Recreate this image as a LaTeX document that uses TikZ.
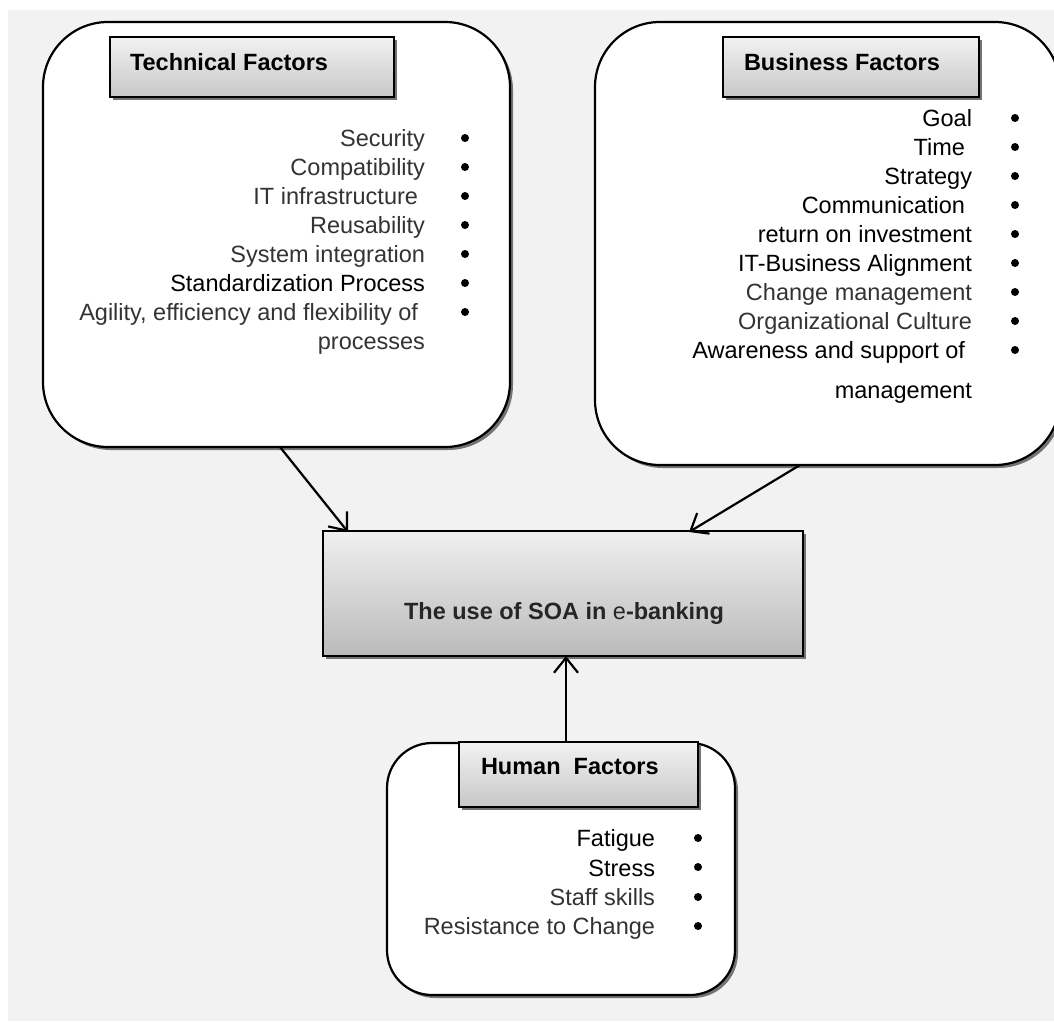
\documentclass[tikz,border=0pt]{standalone}
\usepackage{fontspec}
\setmainfont{Liberation Sans}
\usetikzlibrary{arrows.meta,shadows}
\definecolor{bgc}{HTML}{F2F2F2}
\definecolor{txtg}{HTML}{333333}
\definecolor{ctrt}{HTML}{262626}
\begin{document}
\begin{tikzpicture}[x=1pt,y=-1pt,
  every node/.style={font=\fontsize{23.5}{29}\selectfont, inner sep=0pt, outer sep=0pt},
  roundbox/.style={draw=black, line width=2.2pt, fill=white, drop shadow={shadow xshift=3pt, shadow yshift=-3pt, fill=black!55, opacity=1}},
  headbox/.style={draw=black, line width=2.2pt, top color=black!5, bottom color=black!22, drop shadow={shadow xshift=3pt, shadow yshift=-3pt, fill=black!55, opacity=1}},
  ctrbox/.style={draw=black, line width=2.2pt, top color=black!6, bottom color=black!27, drop shadow={shadow xshift=3pt, shadow yshift=-3pt, fill=black!55, opacity=1}},
  item/.style={anchor=base east},
  gitem/.style={anchor=base east, text=txtg},
  headtxt/.style={anchor=base west, font=\fontsize{23.5}{29}\selectfont\bfseries},
  arr/.style={line width=2.2pt, -{Straight Barb[length=15pt,width=24pt,line width=2.2pt]}},
  bul/.style={fill=black}
]
\useasboundingbox (0,0) rectangle (1054,1021);
\fill[bgc] (8,10) rectangle (1054,1021);

% boxes
\node[roundbox, rounded corners=65pt, minimum width=467pt, minimum height=425pt] (tech) at (276.5,234.5) {};
\node[roundbox, rounded corners=65pt, minimum width=465pt, minimum height=443pt] (bus) at (827.5,243.5) {};
\node[roundbox, rounded corners=45pt, minimum width=348pt, minimum height=252pt] (hum) at (561,869) {};
\node[ctrbox, minimum width=480pt, minimum height=125pt] (ctr) at (563,593.5) {};

% headers
\node[headbox, minimum width=284pt, minimum height=60pt] (techh) at (252,67) {};
\node[headbox, minimum width=256pt, minimum height=60pt] (bush) at (851,67) {};
\node[headbox, minimum width=239pt, minimum height=65pt] (humh) at (578.5,774.5) {};

\node[headtxt] (techt) at (130,70) {Technical Factors};
\node[headtxt] (bust) at (744,70) {Business Factors};
\node[headtxt] (humt) at (481,774) {Human\ \ Factors};

\node[anchor=base, text=ctrt, font=\fontsize{23.5}{29}\selectfont\bfseries] (ctrt) at (564,619) {The use of SOA in \textmd{e}-banking};

% technical items
\node[gitem] (t1) at (425,146) {Security};
\node[gitem] (t2) at (425,175) {Compatibility};
\node[gitem] (t3) at (418,204) {IT infrastructure};
\node[gitem] (t4) at (425,233) {Reusability};
\node[gitem] (t5) at (425,262) {System integration};
\node[item] (t6) at (425,291) {Standardization Process};
\node[gitem] (t7) at (418,320) {Agility, efficiency and flexibility of};
\node[gitem] (t8) at (425,349) {processes};
\foreach \y in {138,167,196,225,254,283,312} \fill[bul] (465,\y) circle (4pt);

% business items
\node[item] (b1) at (972,126) {Goal};
\node[item] (b2) at (965,155) {Time};
\node[item] (b3) at (972,184) {Strategy};
\node[item] (b4) at (965,213) {Communication};
\node[item] (b5) at (972,242) {return on investment};
\node[item] (b6) at (972,271) {IT-Business Alignment};
\node[gitem] (b7) at (972,300) {Change management};
\node[gitem] (b8) at (972,329) {Organizational Culture};
\node[item] (b9) at (965,358) {Awareness and support of};
\node[item] (b10) at (972,398) {management};
\foreach \y in {118,147,176,205,234,263,292,321,350} \fill[bul] (1015,\y) circle (4pt);

% human items
\node[item] (h1) at (655,846) {Fatigue};
\node[item] (h2) at (655,876) {Stress};
\node[gitem] (h3) at (655,905) {Staff skills};
\node[gitem] (h4) at (655,934) {Resistance to Change};
\foreach \y in {838,867,897,926} \fill[bul] (698,\y) circle (4pt);

% connectors
\draw[arr] ([xshift=3.5pt]tech.south) -- ([xshift=25pt,yshift=-1pt]ctr.north west);
\draw[arr] ([xshift=-27.5pt]bus.south) -- ([xshift=-114pt,yshift=-1pt]ctr.north east);
\draw[arr] ([xshift=-12.5pt]humh.north) -- ([xshift=3pt]ctr.south);
\end{tikzpicture}
\end{document}
